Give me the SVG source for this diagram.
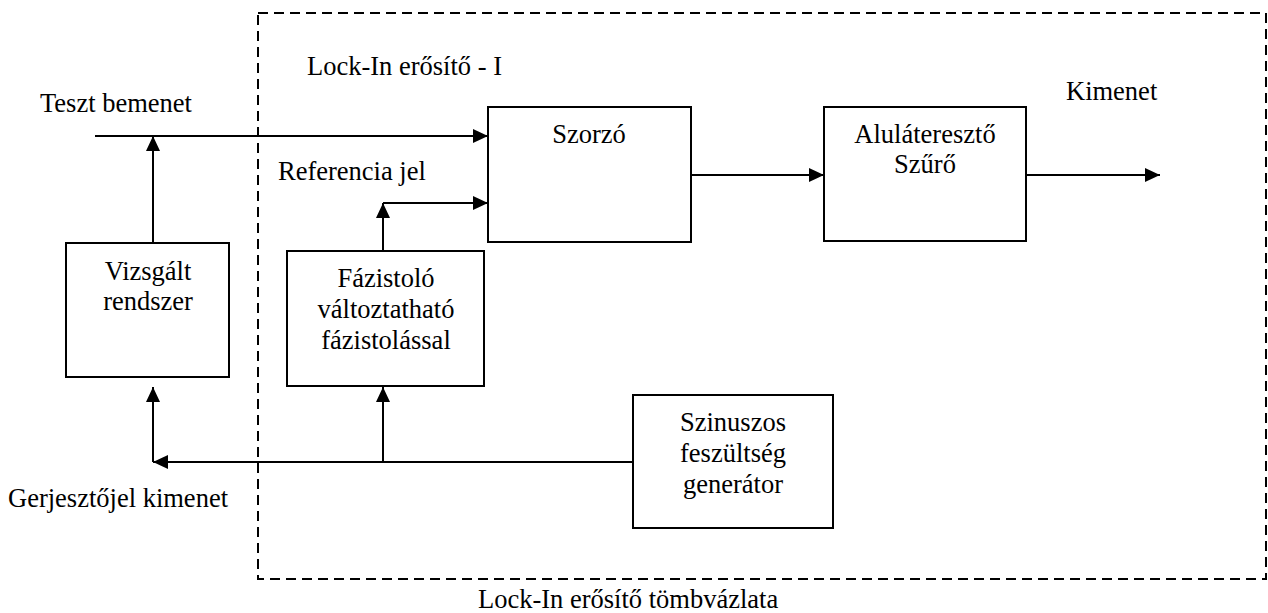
<svg xmlns="http://www.w3.org/2000/svg" width="1268" height="613" viewBox="0 0 1268 613">
  <style>
    .box { fill: #ffffff; stroke: #000000; stroke-width: 2; }
    .frame { fill: none; stroke: #000000; stroke-width: 2; stroke-dasharray: 10 6; }
    .arrow { fill: none; stroke: #000000; stroke-width: 2; marker-end: url(#head); }
    text { font-family: "Liberation Serif", "Times New Roman", serif; font-size: 26.5px; fill: #000000; }
    .c { text-anchor: middle; }
  </style>
  <defs>
    <marker id="head" markerUnits="userSpaceOnUse" markerWidth="16" markerHeight="14" refX="15" refY="7" orient="auto">
      <path d="M0,0 L15,7 L0,14 Z" fill="#000000"/>
    </marker>
  </defs>

  <!-- Lock-In amplifier boundary -->
  <g id="lockin-frame">
    <rect class="frame" x="258" y="13" width="1008" height="566"/>
    <text x="307" y="75">Lock-In erősítő - I</text>
  </g>

  <!-- free labels -->
  <g id="labels">
    <text x="40" y="112">Teszt bemenet</text>
    <text x="278" y="180">Referencia jel</text>
    <text x="1066" y="100">Kimenet</text>
    <text x="8" y="507">Gerjesztőjel kimenet</text>
    <text x="478" y="608">Lock-In erősítő tömbvázlata</text>
  </g>

  <!-- connectors -->
  <g id="connectors">
    <path class="arrow" d="M95,136 H488"/>
    <path class="arrow" d="M153,243 V136"/>
    <path class="arrow" d="M383,251 V203"/>
    <path class="arrow" d="M383,203 H488"/>
    <path class="arrow" d="M691,175 H824"/>
    <path class="arrow" d="M1026,175 H1160"/>
    <path class="arrow" d="M633,462 H153"/>
    <path class="arrow" d="M153,462 V387"/>
    <path class="arrow" d="M383,462 V387"/>
  </g>

  <g id="vizsgalt">
    <rect class="box" x="66" y="243" width="163" height="134"/>
    <text class="c" x="148" y="280">Vizsgált</text>
    <text class="c" x="148" y="310">rendszer</text>
  </g>

  <g id="fazistolo">
    <rect class="box" x="287" y="251" width="197" height="135"/>
    <text class="c" x="386" y="287">Fázistoló</text>
    <text class="c" x="386" y="318">változtatható</text>
    <text class="c" x="386" y="349">fázistolással</text>
  </g>

  <g id="szorzo">
    <rect class="box" x="488" y="107" width="203" height="135"/>
    <text class="c" x="589" y="143">Szorzó</text>
  </g>

  <g id="alulatereszto">
    <rect class="box" x="824" y="107" width="202" height="134"/>
    <text class="c" x="925" y="143">Aluláteresztő</text>
    <text class="c" x="925" y="173">Szűrő</text>
  </g>

  <g id="generator">
    <rect class="box" x="633" y="395" width="200" height="133"/>
    <text class="c" x="733" y="431">Szinuszos</text>
    <text class="c" x="733" y="462">feszültség</text>
    <text class="c" x="733" y="493">generátor</text>
  </g>
</svg>
